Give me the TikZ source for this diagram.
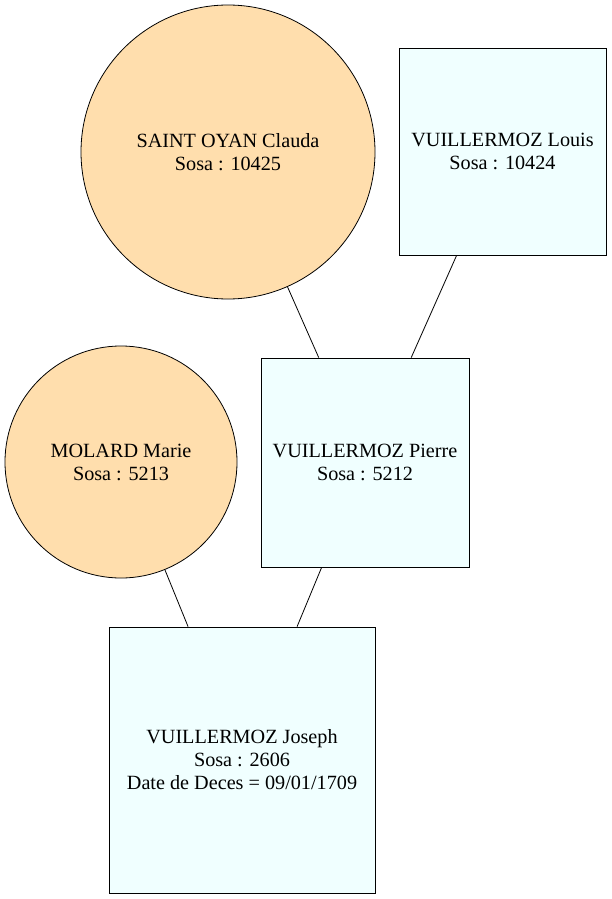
\documentclass[tikz,border=0pt]{standalone}
\usepackage{fontspec}
\setmainfont{Liberation Serif}
\definecolor{peach}{HTML}{FFDEAD}
\definecolor{azurefill}{HTML}{F0FFFF}
\begin{document}
\begin{tikzpicture}[x=1pt,y=-1pt,
  person/.style={draw=black, line width=0.8pt, align=center, inner sep=0pt,
    font=\fontsize{20.2}{23}\selectfont},
  female/.style={person, circle, fill=peach},
  male/.style={person, rectangle, fill=azurefill},
  link/.style={draw=black, line width=0.8pt}]
\useasboundingbox (0,0) rectangle (611,899);
\node[female, minimum size=294pt] (claude) at (228,152) {SAINT OYAN Clauda\\Sosa : 10425};
\node[male, minimum width=207pt, minimum height=207pt] (louis) at (502.5,151.5) {VUILLERMOZ Louis\\Sosa : 10424};
\node[female, minimum size=232pt] (marie) at (121,462) {MOLARD Marie\\Sosa : 5213};
\node[male, minimum width=208pt, minimum height=209pt] (pierre) at (365,462.5) {VUILLERMOZ Pierre\\Sosa : 5212};
\node[male, minimum width=266pt, minimum height=266pt] (joseph) at (242,760) {VUILLERMOZ Joseph\\Sosa : 2606\\Date de Deces = 09/01/1709};
\draw[link] (claude) -- (pierre);
\draw[link] (louis) -- (pierre);
\draw[link] (marie) -- (joseph);
\draw[link] (pierre) -- (joseph);
\end{tikzpicture}
\end{document}
